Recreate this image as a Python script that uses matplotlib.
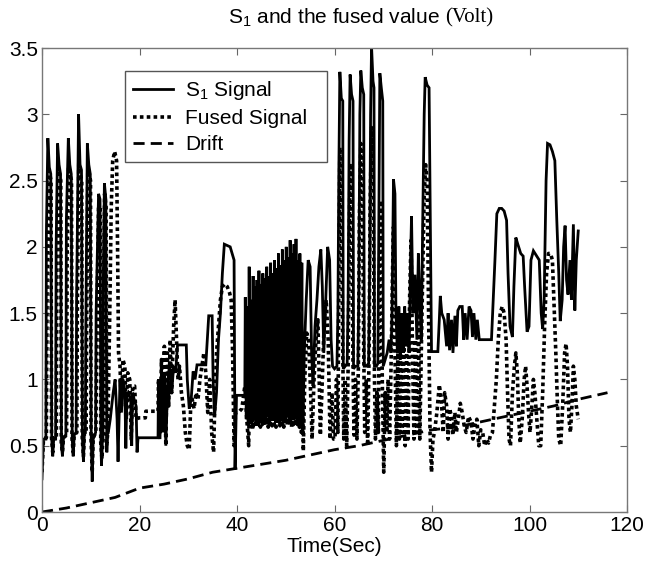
import matplotlib
matplotlib.use("Agg")
import matplotlib.pyplot as plt
import numpy as np

plt.rcParams['font.family'] = ['Liberation Sans', 'DejaVu Sans']
plt.rcParams['mathtext.fontset'] = 'custom'
plt.rcParams['mathtext.rm'] = 'Liberation Sans'
plt.rcParams['mathtext.it'] = 'Liberation Sans:italic'

# ---------------- S1 signal (time in s, value in V) ----------------
s1_t_a = [0.0, 0.3, 0.8, 0.9, 1.2, 1.5, 1.8, 2.0, 2.2, 2.4,
          2.8, 2.9, 3.2, 3.5, 3.8, 4.0, 4.2, 4.4,
          4.9, 5.0, 5.4, 5.7, 6.0, 6.2, 6.4, 6.6,
          7.0, 7.1, 7.5, 7.8, 8.1, 8.3, 8.5, 8.7,
          8.9, 9.0, 9.3, 9.6, 9.9, 10.1, 10.3, 10.5,
          11.0, 11.1, 11.6, 11.9, 12.1, 12.2, 12.4,
          12.5, 12.6, 12.8, 13.1, 13.3, 13.4, 13.6]
s1_v_a = [0.25, 0.55, 0.55, 2.1, 2.82, 2.6, 2.55, 0.55, 0.42, 0.55,
          0.55, 2.0, 2.78, 2.62, 2.55, 0.5, 0.42, 0.56,
          0.58, 2.2, 2.82, 2.62, 2.55, 0.55, 0.42, 0.58,
          0.6, 1.6, 3.0, 2.62, 2.58, 0.55, 0.38, 0.6,
          0.6, 1.4, 2.78, 2.62, 2.55, 0.55, 0.23, 0.55,
          0.6, 1.5, 2.4, 2.36, 0.5, 0.35, 0.55,
          0.55, 1.8, 2.48, 2.36, 0.45, 0.6, 0.6]

s1_t_b = [14.0, 14.6, 15.0, 15.4, 15.6, 15.8, 16.0, 16.3, 16.6, 17.0, 17.2,
          17.4, 17.7, 18.2, 18.4, 18.6, 18.9, 19.3, 19.5, 19.7, 23.8]
s1_v_b = [0.7, 0.9, 1.0, 0.7, 0.38, 0.7, 1.0, 0.75, 1.0, 0.9, 0.48,
          0.88, 0.9, 0.85, 0.5, 0.9, 0.85, 0.8, 0.45, 0.56, 0.56]

s1_t_c = [23.9, 24.2, 24.5, 24.8, 25.1, 25.4, 25.8, 26.2, 26.6, 27.0,
          27.4, 27.8, 29.6, 29.8, 30.2, 30.6, 31.0, 31.4, 31.8, 33.6,
          33.9, 34.2, 34.9, 35.1, 35.4, 35.8, 36.2, 36.6, 37.0, 37.4,
          38.6, 39.0, 39.4, 39.6, 39.9, 41.6]
s1_v_c = [1.0, 0.55, 1.05, 0.6, 1.05, 0.5, 1.0, 1.1, 0.9, 1.1,
          1.05, 1.26, 1.26, 1.0, 0.78, 0.85, 1.06, 1.0, 1.11, 1.11,
          1.3, 1.48, 1.48, 1.0, 0.72, 0.9, 1.3, 1.5, 1.8, 2.02,
          2.0, 1.95, 1.9, 0.32, 0.88, 0.88]

s1_t_d = [41.7, 41.9, 42.1, 42.3, 42.5, 42.7, 42.9, 43.1, 43.3, 43.5,
          43.7, 43.9, 44.1, 44.3, 44.5, 44.7, 44.9, 45.1, 45.3, 45.5,
          45.7, 45.9, 46.1, 46.3, 46.5, 46.7, 46.9, 47.1, 47.3, 47.5,
          47.7, 47.9, 48.1, 48.3, 48.5, 48.7, 48.9, 49.1, 49.3, 49.5,
          49.7, 49.9, 50.1, 50.3, 50.5, 50.7, 50.9, 51.1, 51.3, 51.5,
          51.7, 51.9, 52.1, 52.3, 52.5, 52.7, 52.9, 53.1, 53.3, 53.5]
s1_v_d = [1.62, 0.7, 1.55, 0.65, 1.85, 0.7, 1.6, 0.68, 1.78, 0.72,
          1.7, 0.66, 1.75, 0.7, 1.82, 0.68, 1.72, 0.7, 1.8, 0.66,
          1.76, 0.7, 1.85, 0.72, 1.78, 0.68, 1.88, 0.7, 1.8, 0.72,
          1.9, 0.68, 1.84, 0.7, 1.95, 0.72, 1.86, 0.7, 1.98, 0.74,
          1.9, 0.7, 2.0, 0.72, 1.92, 0.7, 2.05, 0.74, 1.95, 0.72,
          2.02, 0.7, 2.06, 0.74, 1.9, 0.72, 1.95, 0.7, 1.88, 0.6]

s1_t_e = [53.8, 54.2, 54.6, 55.0, 55.3, 55.6, 56.0, 56.4, 56.8, 57.2,
          57.5, 57.8, 58.2, 58.6, 59.0, 59.3, 59.6]
s1_v_e = [1.2, 1.6, 1.9, 1.85, 1.2, 0.95, 1.4, 1.6, 1.85, 1.98,
          1.7, 1.2, 1.6, 2.0, 1.9, 1.3, 1.1]

s1_t_f = [60.0, 60.5, 60.7, 60.9, 61.1, 61.4, 61.7, 61.8, 62.2, 62.6,
          62.8, 63.0, 63.2, 63.5, 63.8, 63.9, 64.3, 64.8, 65.0, 65.2,
          65.4, 65.7, 66.0, 66.1, 66.5, 67.0, 67.2, 67.4, 67.6, 67.9,
          68.1, 68.2, 68.6, 68.9, 69.1, 69.3, 69.6, 69.9, 70.0, 70.4,
          70.8, 71.2, 71.6, 71.8, 72.1, 72.4, 72.6]
s1_v_f = [1.08, 1.1, 1.5, 2.6, 3.32, 3.12, 3.1, 1.08, 1.1, 1.12,
          1.6, 2.8, 3.3, 3.15, 3.1, 1.08, 1.1, 1.1, 1.7, 3.0,
          3.33, 3.2, 3.15, 1.1, 1.1, 1.12, 1.8, 3.0, 3.51, 3.25,
          3.2, 1.1, 1.1, 1.12, 2.2, 3.31, 3.2, 3.1, 1.1, 1.15,
          1.2, 1.3, 1.2, 1.5, 2.51, 2.4, 1.5]

s1_t_g = [72.9, 73.2, 73.5, 73.8, 74.1, 74.4, 74.7, 75.0, 75.3, 75.6,
          75.8, 76.1, 76.5, 76.9, 77.2, 77.5, 77.8, 78.1, 78.4, 78.6,
          79.0, 79.4, 79.7, 79.9, 81.2, 81.5, 81.7]
s1_v_g = [1.2, 1.55, 1.15, 1.5, 1.2, 1.55, 1.25, 1.5, 1.2, 1.9,
          2.23, 1.5, 1.79, 1.3, 1.95, 1.6, 1.3, 2.2, 3.0, 3.28,
          3.22, 3.2, 2.0, 1.21, 1.21, 1.45, 1.63]

s1_t_h = [82.0, 82.5, 83.0, 83.3, 83.6, 84.0, 84.3, 84.7, 85.0, 85.3,
          85.7, 86.2, 86.5, 86.8, 87.2, 87.6, 88.0, 88.3, 88.6, 89.0,
          89.3, 89.7, 92.2, 92.5, 92.9, 93.3, 93.8, 94.3, 94.8, 95.3,
          95.6, 96.0, 96.5, 96.8, 97.2, 97.6, 98.2, 98.7, 99.0, 99.5,
          99.9, 100.3, 100.8, 101.5, 102.0, 102.4, 102.7, 103.0, 103.4, 103.7,
          104.2, 104.7, 105.2, 105.6, 106.0, 106.3, 106.7, 107.0, 107.3, 107.6,
          107.9, 108.3, 108.6, 109.0, 109.3, 109.6, 110.0]
s1_v_h = [1.5, 1.45, 1.25, 1.5, 1.22, 1.45, 1.2, 1.48, 1.25, 1.52,
          1.55, 1.55, 1.3, 1.5, 1.3, 1.55, 1.52, 1.32, 1.5, 1.3,
          1.45, 1.3, 1.3, 1.55, 1.89, 2.25, 2.29, 2.29, 2.27, 2.2,
          1.8, 1.4, 1.32, 1.7, 2.07, 2.02, 1.95, 1.93, 1.7, 1.36,
          1.4, 1.9, 1.97, 1.93, 1.9, 1.5, 1.38, 1.6, 2.5, 2.78,
          2.77, 2.72, 2.65, 2.2, 1.8, 1.44, 1.6, 2.0, 2.16, 1.75,
          1.64, 1.9, 1.6, 2.17, 1.52, 1.9, 2.12]

# ---------------- Fused signal ----------------
fu_t_a = [0.0, 0.3, 0.9, 1.05, 1.3, 1.6, 1.85, 1.95, 2.2, 2.4,
          2.95, 3.05, 3.3, 3.6, 3.85, 3.95, 4.2, 4.4,
          5.05, 5.15, 5.45, 5.75, 6.05, 6.15, 6.4, 6.6,
          7.15, 7.25, 7.55, 7.85, 8.15, 8.25, 8.5, 8.7,
          9.05, 9.15, 9.4, 9.7, 9.95, 10.05, 10.3, 10.5,
          11.05, 11.25, 11.6, 11.95, 12.05, 12.3,
          12.5, 12.65, 12.85, 13.15, 13.25, 13.5]
fu_v_a = [0.3, 0.55, 0.56, 1.8, 2.6, 2.55, 2.5, 0.56, 0.45, 0.56,
          0.56, 1.8, 2.6, 2.55, 2.5, 0.52, 0.45, 0.56,
          0.58, 1.9, 2.6, 2.55, 2.5, 0.56, 0.45, 0.58,
          0.6, 1.5, 2.65, 2.55, 2.5, 0.56, 0.42, 0.6,
          0.6, 1.3, 2.6, 2.55, 2.5, 0.56, 0.3, 0.56,
          0.6, 1.4, 2.3, 2.3, 0.52, 0.4,
          0.56, 1.7, 2.4, 2.3, 0.5, 0.6]

fu_t_b = [13.9, 14.2, 14.5, 14.9, 15.3, 15.5, 15.7, 16.0, 16.3, 16.6, 17.0,
          17.3, 17.6, 18.0, 18.3, 18.6, 19.0, 19.3, 19.8, 21.2, 21.3, 23.8]
fu_v_b = [1.5, 2.3, 2.65, 2.72, 2.65, 2.0, 1.2, 1.1, 0.8, 1.15, 1.1,
          0.7, 1.05, 1.0, 0.55, 0.95, 0.95, 0.7, 0.71, 0.71, 0.76, 0.76]

fu_t_c = [23.9, 24.2, 24.5, 24.8, 25.1, 25.4, 25.7, 26.0, 26.3, 26.6,
          27.0, 27.3, 27.6, 27.9, 28.2, 28.6, 29.0, 29.4, 29.8, 30.2,
          30.5, 30.8, 31.2, 31.6, 32.0, 32.4, 32.8, 33.2, 33.6, 34.0,
          34.4, 34.8, 35.2, 35.5, 35.8, 36.2, 36.6, 37.0, 37.5, 38.0,
          38.5, 38.8, 39.1, 39.4, 39.7]
fu_v_c = [1.0, 0.6, 1.15, 0.65, 1.25, 0.5, 1.2, 0.8, 1.3, 0.9,
          1.4, 1.6, 1.3, 1.0, 1.1, 0.9, 0.8, 0.6, 0.5, 0.47,
          0.8, 0.85, 0.78, 0.9, 0.85, 1.0, 1.1, 1.2, 1.05, 0.75,
          1.0, 0.6, 0.45, 0.9, 1.2, 1.4, 1.6, 1.7, 1.72, 1.7,
          1.65, 1.6, 1.2, 0.5, 0.75]

fu_t_d = [40.3, 41.0, 41.6, 42.0, 42.4,
          42.6, 42.8, 43.0, 43.2, 43.4, 43.6, 43.8, 44.0, 44.2, 44.4,
          44.6, 44.8, 45.0, 45.2, 45.4, 45.6, 45.8, 46.0, 46.2, 46.4,
          46.6, 46.8, 47.0, 47.2, 47.4, 47.6, 47.8, 48.0, 48.2, 48.4,
          48.6, 48.8, 49.0, 49.2, 49.4, 49.6, 49.8, 50.0, 50.2, 50.4,
          50.6, 50.8, 51.0, 51.2, 51.4, 51.6, 51.8, 52.0, 52.2, 52.4,
          52.6, 52.8, 53.0, 53.2, 53.4, 53.6]
fu_v_d = [0.75, 0.78, 0.95, 0.7, 0.5,
          1.1, 0.65, 1.15, 0.62, 1.12, 0.66, 1.18, 0.64, 1.15, 0.66,
          1.2, 0.64, 1.16, 0.66, 1.22, 0.65, 1.2, 0.66, 1.25, 0.64,
          1.22, 0.66, 1.28, 0.65, 1.25, 0.66, 1.3, 0.64, 1.28, 0.66,
          1.32, 0.65, 1.3, 0.66, 1.35, 0.64, 1.33, 0.66, 1.38, 0.65,
          1.36, 0.66, 1.4, 0.64, 1.38, 0.66, 1.42, 0.65, 1.44, 0.66,
          1.4, 0.64, 1.45, 0.6, 1.3, 0.46]

fu_t_e = [53.9, 54.3, 54.7, 55.1, 55.4, 55.8, 56.2, 56.6, 57.1, 57.5,
          57.9, 58.3, 58.7, 59.1, 59.5, 59.8]
fu_v_e = [1.0, 1.35, 1.3, 0.9, 0.55, 1.0, 1.3, 1.45, 0.58, 1.0,
          1.45, 1.6, 1.3, 0.55, 0.9, 0.55]

fu_t_f = [60.1, 60.4, 60.7, 60.9, 61.1, 61.4, 61.7, 61.9, 62.2, 62.5,
          62.8, 63.0, 63.2, 63.5, 63.8, 64.0, 64.3, 64.6, 64.9, 65.1,
          65.4, 65.7, 66.0, 66.2, 66.5, 66.8, 67.1, 67.3, 67.6, 67.9,
          68.2, 68.4, 68.7, 69.0, 69.2, 69.5, 69.8, 70.1, 70.4, 70.7,
          71.0, 71.3, 71.6, 71.9, 72.1, 72.4]
fu_v_f = [0.55, 1.0, 0.6, 1.8, 2.75, 2.4, 1.2, 0.55, 1.0, 0.5,
          1.1, 2.0, 2.63, 2.3, 1.1, 0.58, 1.0, 0.55, 1.1, 2.2,
          2.78, 2.5, 1.2, 0.6, 1.0, 0.5, 1.2, 2.3, 2.9, 2.5,
          1.0, 0.55, 0.9, 0.6, 1.8, 2.35, 1.0, 0.3, 0.9, 0.6,
          1.0, 0.55, 1.1, 1.8, 2.15, 1.2]

fu_t_g = [72.7, 73.0, 73.3, 73.6, 73.9, 74.2, 74.5, 74.8, 75.1, 75.4,
          75.7, 76.0, 76.3, 76.6, 76.9, 77.2, 77.5, 77.8, 78.1, 78.4,
          78.7, 79.0, 79.3, 79.6, 79.9, 80.2]
fu_v_g = [0.5, 1.2, 0.55, 1.25, 0.6, 1.3, 0.5, 1.2, 0.55, 1.6,
          2.05, 1.2, 0.55, 1.3, 0.6, 1.5, 0.55, 1.2, 1.8, 2.4,
          2.62, 2.5, 1.5, 0.6, 0.3, 0.55]

fu_t_h = [80.5, 81.0, 81.5, 81.9, 82.3, 82.6, 83.0, 83.3, 83.6, 84.0,
          84.3, 84.7, 85.0, 85.4, 85.8, 86.2, 86.6, 87.0, 87.5, 88.0,
          88.4, 88.8, 89.2, 89.6, 90.0, 90.4, 90.8, 91.2, 91.6, 92.0,
          92.4, 92.8, 93.2, 93.6, 94.0, 94.4, 94.8, 95.2, 95.5, 95.8,
          96.1, 96.5, 96.9, 97.2, 97.5, 97.8, 98.1, 98.5, 98.9, 99.2,
          99.5, 99.8, 100.1, 100.4, 100.8, 101.1, 101.5, 101.9, 102.3, 102.7,
          103.1, 103.5, 103.9, 104.3, 104.7, 105.0, 105.4, 105.7, 106.0, 106.4,
          106.8, 107.2, 107.5, 107.8, 108.1, 108.4, 108.7, 109.0, 109.3, 109.6,
          110.0]
fu_v_h = [0.6, 0.75, 0.96, 0.85, 0.6, 0.9, 0.8, 0.55, 0.78, 0.72,
          0.58, 0.75, 0.6, 0.7, 0.82, 0.75, 0.65, 0.6, 0.72, 0.68,
          0.55, 0.65, 0.7, 0.5, 0.62, 0.6, 0.5, 0.55, 0.52, 0.58,
          0.6, 0.8, 1.0, 1.3, 1.5, 1.55, 1.5, 1.3, 0.9, 0.55,
          0.5, 0.9, 1.1, 1.2, 1.05, 0.7, 0.52, 0.7, 1.0, 1.1,
          0.95, 0.75, 0.6, 0.75, 1.0, 0.9, 0.7, 0.5, 0.5, 0.9,
          1.4, 1.8, 1.95, 1.95, 1.9, 1.6, 1.2, 0.85, 0.55, 0.5,
          0.8, 1.2, 1.27, 1.1, 0.7, 0.6, 0.8, 1.1, 1.0, 0.8,
          0.7]

# ---------------- Drift ----------------
drift_t = [0, 5, 10, 15, 20, 25, 30, 35, 40, 45, 50, 55, 60, 65, 70,
           75, 80, 85, 90, 95, 100, 105, 110, 116]
drift_v = [0.0, 0.03, 0.07, 0.11, 0.18, 0.21, 0.25, 0.3, 0.33, 0.36, 0.39,
           0.43, 0.47, 0.5, 0.54, 0.58, 0.62, 0.64, 0.68, 0.72, 0.76, 0.8,
           0.85, 0.9]

x_ticks = [0, 20, 40, 60, 80, 100, 120]
y_ticks = [0, 0.5, 1, 1.5, 2, 2.5, 3, 3.5]
y_tick_labels = ["0", "0.5", "1", "1.5", "2", "2.5", "3", "3.5"]

s1_t = s1_t_a + s1_t_b + s1_t_c + s1_t_d + s1_t_e + s1_t_f + s1_t_g + s1_t_h
s1_v = s1_v_a + s1_v_b + s1_v_c + s1_v_d + s1_v_e + s1_v_f + s1_v_g + s1_v_h
fu_t = fu_t_a + fu_t_b + fu_t_c + fu_t_d + fu_t_e + fu_t_f + fu_t_g + fu_t_h
fu_v = fu_v_a + fu_v_b + fu_v_c + fu_v_d + fu_v_e + fu_v_f + fu_v_g + fu_v_h
n1 = min(len(s1_t), len(s1_v))
n2 = min(len(fu_t), len(fu_v))

W, H = 645, 563
fig = plt.figure(figsize=(W / 100, H / 100), dpi=100)
ax = fig.add_axes([42 / W, 1 - 512 / H, (627 - 42) / W, (512 - 48) / H])

l1, = ax.plot(s1_t[:n1], s1_v[:n1], color='black', lw=2.0, ls='-',
              solid_joinstyle='miter')
l2, = ax.plot(fu_t[:n2], fu_v[:n2], color='black', lw=2.6,
              ls=(0, (1, 0.9)), dash_capstyle='butt')
l3, = ax.plot(drift_t, drift_v, color='black', lw=2.0, ls=(0, (4, 2.2)))

ax.set_xlim(0, 120)
ax.set_ylim(0, 3.5)
ax.set_xticks(x_ticks)
ax.set_yticks(y_ticks)
ax.set_yticklabels(y_tick_labels)
ax.tick_params(direction='in', length=5, width=0.8, top=True, right=True,
               labelsize=15, pad=3, colors='#666666', labelcolor='black')
for sp in ax.spines.values():
    sp.set_color('#777777')
    sp.set_linewidth(1.0)

ax.set_xlabel('Time(Sec)', fontsize=15, labelpad=1)

leg = ax.legend([l1, l2, l3], ['S$_1$ Signal', 'Fused Signal  ', 'Drift'],
                loc='upper left', bbox_to_anchor=(125 / W, 1 - 71 / H),
                bbox_transform=fig.transFigure, borderaxespad=0,
                fontsize=15, frameon=True, fancybox=False, framealpha=1,
                handlelength=1.9, handletextpad=0.6, labelspacing=0.33,
                borderpad=0.4)
leg.get_frame().set_edgecolor('#555555')
leg.get_frame().set_linewidth(1.0)

fig.text(228 / W, 1 - 18 / H, 'S$_1$ and the fused value', fontsize=15,
         ha='left', va='center', family=['Liberation Sans'])
fig.text(445 / W, 1 - 18 / H, '(Volt)', fontsize=15, ha='left', va='center',
         family=['Liberation Serif'])

fig.savefig('out.png', dpi=100)
